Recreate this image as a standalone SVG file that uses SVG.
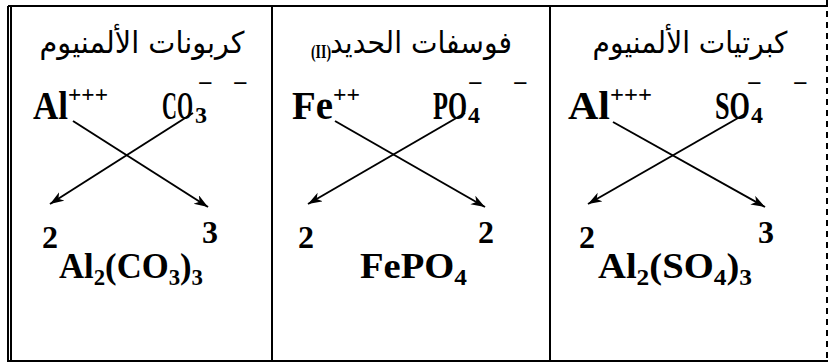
<svg xmlns="http://www.w3.org/2000/svg" width="838" height="363" viewBox="0 0 838 363">
<style>
.fr{stroke:#000;stroke-width:2;fill:none}
.ar{font-family:"DejaVu Sans",sans-serif;font-size:30px;fill:#000}
.f{font-family:"Liberation Serif","Times New Roman",serif;font-weight:bold;fill:#000}
.big{font-size:40px}
.sup{font-size:24px}
.num{font-size:32px}
.prod{font-size:35px}
.sub{font-size:23px}
.cn{stroke:#000;stroke-width:2;fill:none;marker-end:url(#ah)}
</style>
<defs>
<marker id="ah" markerUnits="userSpaceOnUse" markerWidth="16" markerHeight="12" refX="14" refY="5" orient="auto">
<path d="M0,0 L14,5 L0,10 L4,5 Z" fill="#000"/>
</marker>
</defs>
<g id="frame">
<line class="fr" x1="8" y1="6" x2="828" y2="6"/>
<line class="fr" x1="8" y1="361" x2="828" y2="361"/>
<line class="fr" x1="8" y1="6" x2="8" y2="362"/>
<line class="fr" x1="11" y1="6" x2="11" y2="362"/>
<line class="fr" x1="272" y1="6" x2="272" y2="361"/>
<line class="fr" x1="550" y1="6" x2="550" y2="361"/>
<line class="fr" x1="827" y1="0" x2="827" y2="362" stroke-dasharray="6,5"/>
</g>
<g id="connectors">
<line class="cn" x1="73" y1="121" x2="208" y2="207"/>
<line class="cn" x1="193" y1="113" x2="50" y2="204"/>
<line class="cn" x1="335" y1="121" x2="485" y2="207"/>
<line class="cn" x1="465" y1="113" x2="308" y2="204"/>
<line class="cn" x1="613" y1="122" x2="765" y2="207"/>
<line class="cn" x1="745" y1="114" x2="588" y2="204"/>
</g>
<g id="col-carbonate">
<text class="ar" x="142" y="53" text-anchor="middle" textLength="205" lengthAdjust="spacingAndGlyphs">كربونات الألمنيوم</text>
<text class="f big" x="33" y="119" textLength="35" lengthAdjust="spacingAndGlyphs">Al</text>
<text class="f sup" x="68" y="102" textLength="40" lengthAdjust="spacingAndGlyphs">+++</text>
<text class="f big" x="162" y="119" textLength="31" lengthAdjust="spacingAndGlyphs">CO</text>
<text class="f sup" x="195" y="123">3</text>
<text class="f sup" x="198" y="91" textLength="15" lengthAdjust="spacingAndGlyphs">−</text>
<text class="f sup" x="233" y="91" textLength="15" lengthAdjust="spacingAndGlyphs">−</text>
<text class="f num" x="42" y="248">2</text>
<text class="f num" x="202" y="243">3</text>
<text class="f prod" x="59" y="278" textLength="144" lengthAdjust="spacingAndGlyphs">Al<tspan class="sub" dy="7">2</tspan><tspan dy="-7">(CO</tspan><tspan class="sub" dy="7">3</tspan><tspan dy="-7">)</tspan><tspan class="sub" dy="7">3</tspan></text>
</g>
<g id="col-phosphate">
<text class="ar" x="421" y="53" text-anchor="middle" textLength="182" lengthAdjust="spacingAndGlyphs">فوسفات الحديد</text>
<text class="f" x="311" y="58" font-size="18" textLength="20" lengthAdjust="spacingAndGlyphs">(II)</text>
<text class="f big" x="292" y="119" textLength="41" lengthAdjust="spacingAndGlyphs">Fe</text>
<text class="f sup" x="333" y="102" textLength="27" lengthAdjust="spacingAndGlyphs">++</text>
<text class="f big" x="433" y="119" textLength="34" lengthAdjust="spacingAndGlyphs">PO</text>
<text class="f sup" x="468" y="123">4</text>
<text class="f sup" x="468" y="91" textLength="15" lengthAdjust="spacingAndGlyphs">−</text>
<text class="f sup" x="513" y="91" textLength="15" lengthAdjust="spacingAndGlyphs">−</text>
<text class="f num" x="298" y="248">2</text>
<text class="f num" x="478" y="243">2</text>
<text class="f prod" x="360" y="278" textLength="107" lengthAdjust="spacingAndGlyphs">FePO<tspan class="sub" dy="7">4</tspan></text>
</g>
<g id="col-sulfate">
<text class="ar" x="690" y="53" text-anchor="middle" textLength="195" lengthAdjust="spacingAndGlyphs">كبرتيات الألمنيوم</text>
<text class="f big" x="568" y="119" textLength="42" lengthAdjust="spacingAndGlyphs">Al</text>
<text class="f sup" x="610" y="102" textLength="42" lengthAdjust="spacingAndGlyphs">+++</text>
<text class="f big" x="715" y="119" textLength="35" lengthAdjust="spacingAndGlyphs">SO</text>
<text class="f sup" x="751" y="123">4</text>
<text class="f sup" x="747" y="91" textLength="15" lengthAdjust="spacingAndGlyphs">−</text>
<text class="f sup" x="793" y="91" textLength="15" lengthAdjust="spacingAndGlyphs">−</text>
<text class="f num" x="579" y="248">2</text>
<text class="f num" x="758" y="243">3</text>
<text class="f prod" x="598" y="278" textLength="154" lengthAdjust="spacingAndGlyphs">Al<tspan class="sub" dy="7">2</tspan><tspan dy="-7">(SO</tspan><tspan class="sub" dy="7">4</tspan><tspan dy="-7">)</tspan><tspan class="sub" dy="7">3</tspan></text>
</g>
</svg>
